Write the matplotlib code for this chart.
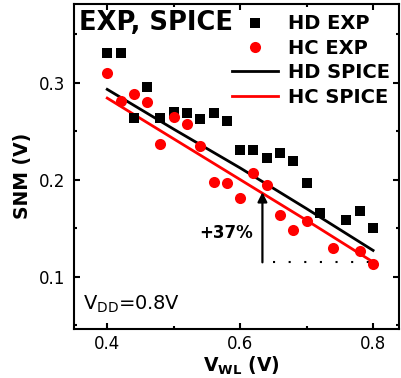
import matplotlib
matplotlib.use('Agg')
import matplotlib.pyplot as plt
from matplotlib.ticker import MultipleLocator

# ---- data ----
hd_exp_x = [0.40, 0.42, 0.44, 0.46, 0.48, 0.50, 0.52, 0.54, 0.56, 0.58,
            0.60, 0.62, 0.64, 0.66, 0.68, 0.70, 0.72, 0.76, 0.78, 0.80]
hd_exp_y = [0.330, 0.330, 0.264, 0.295, 0.263, 0.270, 0.269, 0.262, 0.269, 0.260,
            0.230, 0.230, 0.222, 0.227, 0.219, 0.196, 0.166, 0.158, 0.168, 0.150]

hc_exp_x = [0.40, 0.42, 0.44, 0.46, 0.48, 0.50, 0.52, 0.54, 0.56, 0.58,
            0.60, 0.62, 0.64, 0.66, 0.68, 0.70, 0.74, 0.78, 0.80]
hc_exp_y = [0.310, 0.281, 0.288, 0.280, 0.237, 0.265, 0.257, 0.235, 0.198, 0.197,
            0.181, 0.207, 0.194, 0.163, 0.148, 0.157, 0.130, 0.126, 0.113]

spice_x = [0.40, 0.50, 0.60, 0.70, 0.80]
hd_spice_y = [0.293, 0.252, 0.212, 0.170, 0.127]
hc_spice_y = [0.284, 0.242, 0.200, 0.158, 0.115]

arrow_x = 0.6335
arrow_y0, arrow_y1 = 0.1147, 0.187
dot_x = [0.65, 0.80]
dot_y = [0.1147, 0.1147]

xticks = [0.4, 0.6, 0.8]
yticks = [0.1, 0.2, 0.3]

# ---- figure ----
fig = plt.figure(figsize=(4.01, 3.78), dpi=100)
ax = fig.add_axes([74 / 401, 49 / 378, 325 / 401, 325 / 378])

ax.plot(spice_x, hd_spice_y, '-', color='black', lw=2, label='HD SPICE', zorder=2)
ax.plot(spice_x, hc_spice_y, '-', color='red', lw=2, label='HC SPICE', zorder=2)
ax.plot(hd_exp_x, hd_exp_y, 's', color='black', ms=7, mew=0, label='HD EXP', zorder=3)
ax.plot(hc_exp_x, hc_exp_y, 'o', color='red', ms=8, mew=0, label='HC EXP', zorder=3)

ax.set_xlim(0.35, 0.839)
ax.set_ylim(0.046, 0.381)
ax.set_xticks(xticks)
ax.set_yticks(yticks)
ax.set_xticklabels([f'{v:.1f}' for v in xticks])
ax.set_yticklabels([f'{v:.1f}' for v in yticks])
ax.xaxis.set_minor_locator(MultipleLocator(0.1))
ax.yaxis.set_minor_locator(MultipleLocator(0.05))

ax.tick_params(which='both', direction='in', top=True, right=True, width=1.5)
ax.tick_params(which='major', length=4.5, labelsize=12, pad=4)
ax.tick_params(which='minor', length=2.5)
ax.tick_params(axis='y', pad=6)
for s in ax.spines.values():
    s.set_linewidth(1.5)

ax.set_ylabel('SNM (V)', fontsize=13.5, fontweight='bold')
ax.yaxis.set_label_coords(-0.128, 0.47)
ax.set_xlabel(r'$\mathbf{V_{WL}}$ (V)', fontsize=13.5, fontweight='bold')
ax.xaxis.set_label_coords(0.515, -0.078)

# title text in axes
ax.text(0.015, 0.92, 'EXP, SPICE', transform=ax.transAxes, fontsize=18.5,
        fontweight='bold', ha='left', va='baseline')
ax.text(0.028, 0.058, r'V$_{\mathrm{DD}}$=0.8V', transform=ax.transAxes, fontsize=14,
        ha='left', va='baseline')

# arrow and annotation
ax.annotate('', xy=(arrow_x, arrow_y1), xytext=(arrow_x, arrow_y0),
            arrowprops=dict(arrowstyle='-|>', color='black', lw=1.6,
                            mutation_scale=14, shrinkA=0, shrinkB=0))
ax.plot(dot_x, dot_y, color='black', lw=1.5, linestyle=(0, (1, 6.5)))
ax.text(0.6195, 0.140, '+37%', fontsize=12, fontweight='bold', ha='right', va='baseline')

handles, labels = ax.get_legend_handles_labels()
order = [2, 3, 0, 1]
leg = ax.legend([handles[i] for i in order], [labels[i] for i in order],
                loc='upper left', bbox_to_anchor=(0.485, 0.968), frameon=False,
                prop={'size': 14, 'weight': 'bold'}, handlelength=2.4,
                handletextpad=0.5, labelspacing=0.28, borderpad=0, borderaxespad=0)

fig.savefig('out.png', dpi=100)
